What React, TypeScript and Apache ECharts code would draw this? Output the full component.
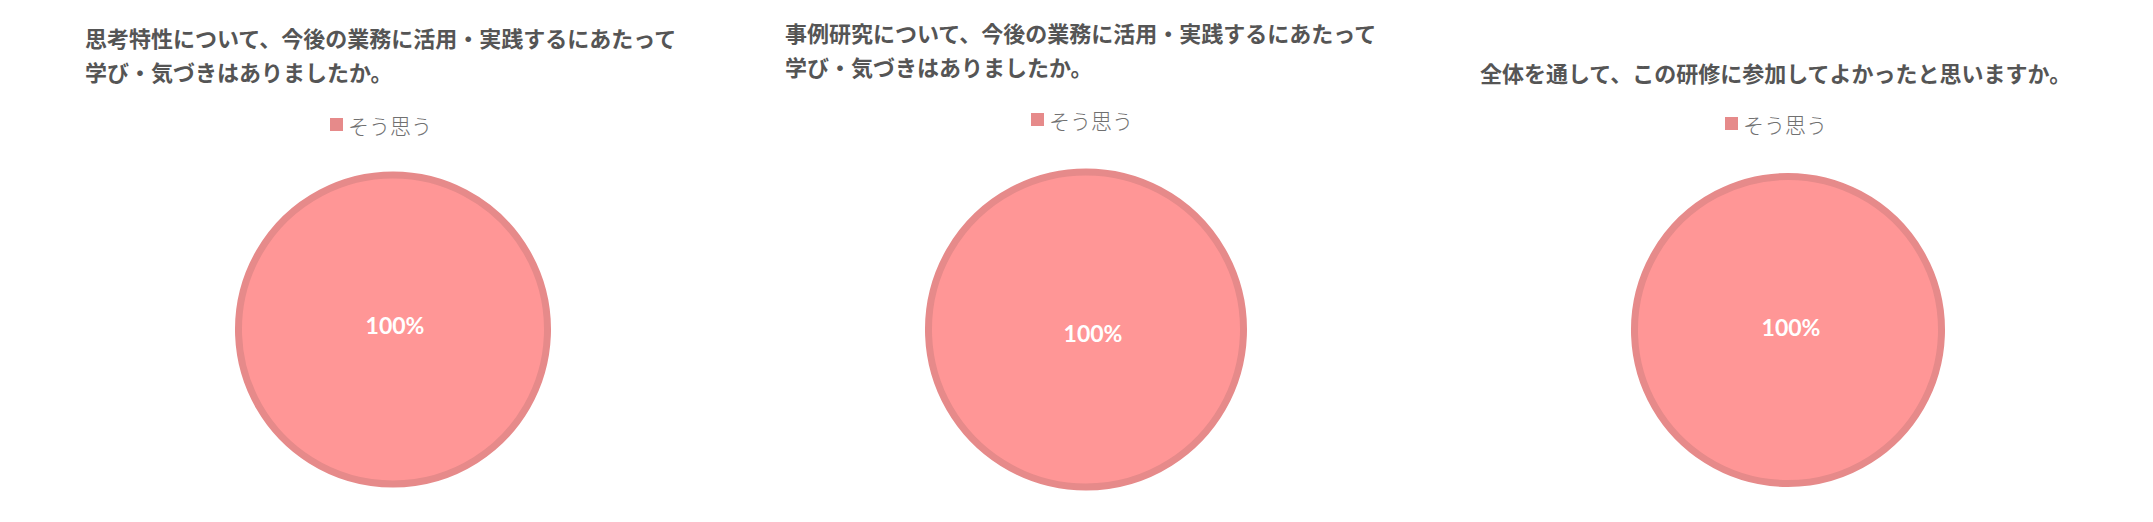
import React, { useEffect, useRef } from "react";
import * as echarts from "echarts";

// Survey answers: one answer category per question, shown as a share of responses.
const categories = ["そう思う"];
const questions = [
  "思考特性について、今後の業務に活用・実践するにあたって\n学び・気づきはありましたか。",
  "事例研究について、今後の業務に活用・実践するにあたって\n学び・気づきはありましたか。",
  "全体を通して、この研修に参加してよかったと思いますか。",
];
const valuesQ1 = [100];
const valuesQ2 = [100];
const valuesQ3 = [100];

const FILL = "#FF9696";
const BORDER = "#E68A8A";
const CJK = '"Noto Sans CJK JP", "Noto Sans", sans-serif';

// Per-panel layout
const panels = [
  { values: valuesQ1, titleLeft: 85, titleTop: 20, legendLeft: 330, legendTop: 114, center: [393, 329.5], radius: 154.5, labelOffset: [2, -5] },
  { values: valuesQ2, titleLeft: 785, titleTop: 15, legendLeft: 1031, legendTop: 109, center: [1086, 329.5], radius: 157.5, labelOffset: [7, 3] },
  { values: valuesQ3, titleLeft: 1480, titleTop: 55, legendLeft: 1725, legendTop: 113, center: [1788, 330], radius: 153.5, labelOffset: [3, -3] },
];

export default function App() {
  const ref = useRef<HTMLDivElement>(null);

  useEffect(() => {
    document.body.style.margin = "0";
    const chart = echarts.init(ref.current!, null, { renderer: "svg" });

    chart.setOption({
      animation: false,
      backgroundColor: "#ffffff",
      title: panels.map((p, i) => ({
        text: questions[i],
        left: p.titleLeft,
        top: p.titleTop,
        padding: 0,
        textStyle: {
          fontFamily: CJK,
          fontSize: 22,
          fontWeight: "bold",
          color: "#555555",
          lineHeight: 34,
        },
      })),
      legend: panels.map((p) => ({
        data: categories,
        left: p.legendLeft,
        top: p.legendTop,
        padding: 0,
        icon: "rect",
        itemWidth: 13,
        itemHeight: 13,
        selectedMode: false,
        itemStyle: { color: BORDER, borderWidth: 0 },
        textStyle: {
          fontFamily: CJK,
          fontSize: 21,
          fontWeight: 300,
          color: "#707070",
        },
      })),
      series: panels.map((p) => ({
        type: "pie",
        center: p.center,
        radius: p.radius,
        startAngle: 90,
        silent: true,
        itemStyle: { color: FILL, borderColor: BORDER, borderWidth: 7 },
        label: {
          show: true,
          position: "center",
          formatter: "{d}%",
          offset: p.labelOffset,
          color: "#ffffff",
          fontFamily: "Lato, sans-serif",
          fontWeight: "bold",
          fontSize: 23,
        },
        labelLine: { show: false },
        emphasis: { disabled: true },
        data: categories.map((name, k) => ({ name, value: p.values[k] })),
      })),
    });

    return () => chart.dispose();
  }, []);

  return <div ref={ref} style={{ width: 2153, height: 522 }} />;
}
